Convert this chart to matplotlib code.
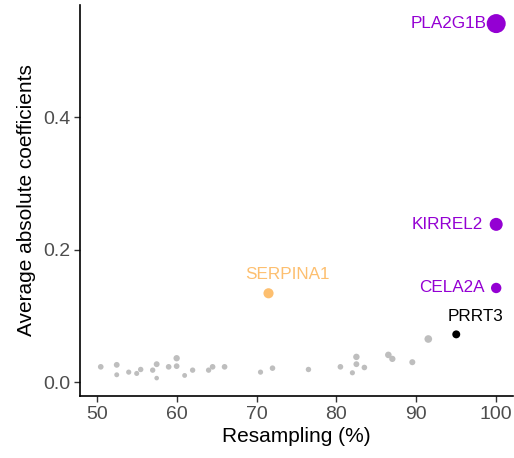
import matplotlib
matplotlib.use("Agg")
import matplotlib.pyplot as plt
import numpy as np

plt.rcParams['font.family'] = ['Liberation Sans', 'DejaVu Sans']

# Grey (unlabelled) genes
grey_x = [50.5, 52.5, 52.5, 54, 55, 55.5, 57, 57.5, 57.5, 59, 60, 60, 61, 62, 64, 64.5, 66,
          70.5, 72, 76.5, 80.5, 82.5, 82.5, 82, 83.5, 86.5, 87, 89.5, 91.5]
grey_y = [0.023, 0.026, 0.011, 0.015, 0.013, 0.019, 0.018, 0.027, 0.006, 0.023, 0.036, 0.024,
          0.010, 0.018, 0.018, 0.023, 0.023, 0.015, 0.021, 0.019, 0.023, 0.038, 0.027, 0.014,
          0.022, 0.041, 0.035, 0.030, 0.065]

# Labelled genes
lab_names = ["PLA2G1B", "KIRREL2", "CELA2A", "PRRT3", "SERPINA1"]
lab_x = [100, 100, 100, 95, 71.5]
lab_y = [0.541, 0.238, 0.142, 0.072, 0.134]
lab_colors = ["#9400D3", "#9400D3", "#9400D3", "#000000", "#FDBF6F"]

xticks = [50, 60, 70, 80, 90, 100]
yticks = [0.0, 0.2, 0.4]
ytick_labels = ["0.0", "0.2", "0.4"]


def size_of(y):
    return 9 + 330 * np.asarray(y)


fig = plt.figure(figsize=(5.14, 4.58), dpi=100)
ax = fig.add_axes([0.1556, 0.1354, 0.8424, 0.8536])

ax.scatter(grey_x, grey_y, s=size_of(grey_y), color="#BEBEBE", linewidths=0, zorder=2)
ax.scatter(lab_x, lab_y, s=size_of(lab_y), c=lab_colors, linewidths=0, zorder=3)

# Labels
offsets = {
    "PLA2G1B": (-10, 0, "right", "center"),
    "KIRREL2": (-13, 0, "right", "center"),
    "CELA2A": (-12, 0, "right", "center"),
    "PRRT3": (19, 10, "center", "bottom"),
    "SERPINA1": (19, 11, "center", "bottom"),
}
for n, x, y, c in zip(lab_names, lab_x, lab_y, lab_colors):
    dx, dy, ha, va = offsets[n]
    ax.annotate(n, (x, y), xytext=(dx, dy), textcoords="offset pixels",
                ha=ha, va=va, color=c, fontsize=12.3)

ax.set_xlim(47.9, 102.1)
ax.set_ylim(-0.021, 0.569)
ax.set_xticks(xticks)
ax.set_yticks(yticks)
ax.set_yticklabels(ytick_labels)

for s in ["top", "right"]:
    ax.spines[s].set_visible(False)
for s in ["left", "bottom"]:
    ax.spines[s].set_linewidth(1.2)
    ax.spines[s].set_color("black")

ax.tick_params(axis="both", colors="#333333", labelcolor="#4D4D4D", labelsize=14,
               length=4, width=1.0, direction="out", pad=3)

ax.set_xlabel("Resampling (%)", fontsize=15, color="black", labelpad=3)
ax.set_ylabel("Average absolute coefficients", fontsize=15, color="black", labelpad=5)

fig.savefig("out.png", dpi=100)
